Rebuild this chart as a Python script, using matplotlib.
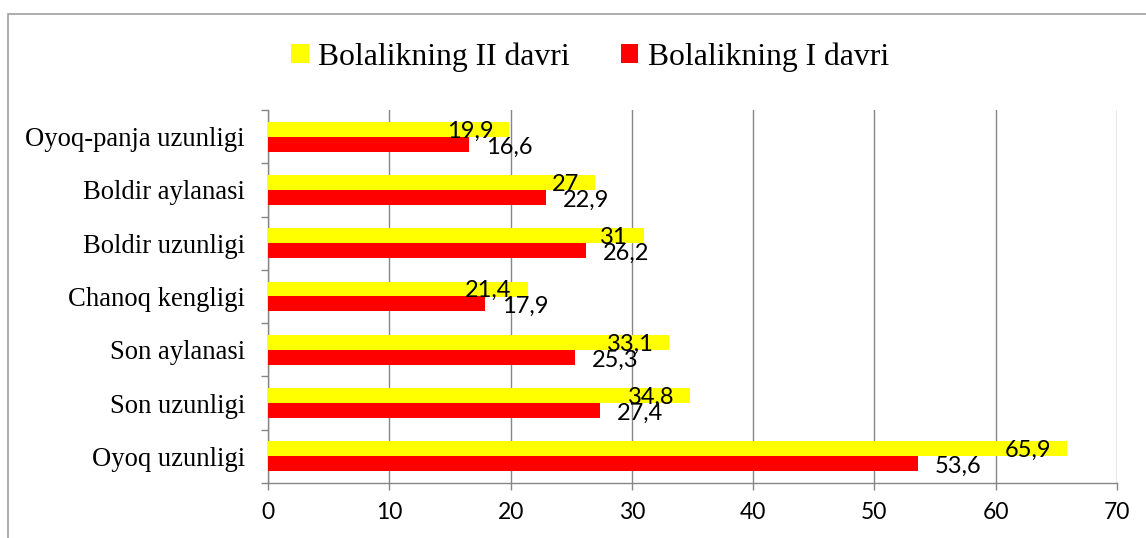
import matplotlib
matplotlib.use("Agg")
import matplotlib.pyplot as plt
from matplotlib.patches import Patch, Rectangle
from matplotlib.ticker import FixedLocator

categories = ["Oyoq uzunligi", "Son uzunligi", "Son aylanasi", "Chanoq kengligi",
              "Boldir uzunligi", "Boldir aylanasi", "Oyoq-panja uzunligi"]
davr2 = [65.9, 34.8, 33.1, 21.4, 31, 27, 19.9]
davr1 = [53.6, 27.4, 25.3, 17.9, 26.2, 22.9, 16.6]
series_names = ["Bolalikning II davri", "Bolalikning I davri"]
xticks = [0, 10, 20, 30, 40, 50, 60, 70]

fig = plt.figure(figsize=(11.46, 5.38), dpi=100)
ax = fig.add_axes([268/1146, 1-483/538, (1117-268)/1146, (483-110)/538])

h = 0.28
ys = list(range(len(categories)))
ax.barh([y + h/2 for y in ys], davr2, height=h, color="#FFFF00", zorder=3)
ax.barh([y - h/2 for y in ys], davr1, height=h, color="#FF0000", zorder=3)

def fmt(v):
    return f"{v:g}".replace(".", ",")

lab_font = dict(family="Lato", fontsize=17, color="black")
for y, v in zip(ys, davr2):
    ax.annotate(fmt(v), (v, y + h/2), xytext=(-11.5, -1.2), textcoords="offset points",
                ha="right", va="center", zorder=5, **lab_font)
for y, v in zip(ys, davr1):
    ax.annotate(fmt(v), (v, y - h/2), xytext=(12, -2), textcoords="offset points",
                ha="left", va="center", zorder=5, **lab_font)

ax.set_xlim(0, 70)
ax.set_ylim(-0.5, len(categories) - 0.5)
ax.set_xticks(xticks)
ax.set_xticklabels([str(t) for t in xticks], family="Lato", fontsize=16.5)
ax.set_yticks(ys)
ax.set_yticklabels(categories, family="Liberation Serif", fontsize=19.2)
ax.yaxis.set_minor_locator(FixedLocator([y - 0.5 for y in range(len(categories) + 1)]))
ax.tick_params(axis="y", which="major", length=0, pad=16.5)
ax.tick_params(axis="y", which="minor", length=5, color="#868686", width=1)
ax.tick_params(axis="x", length=5, color="#868686", width=1, pad=9)
ax.grid(axis="x", color="#868686", linewidth=1, zorder=0)
for s in ["top", "right"]:
    ax.spines[s].set_visible(False)
for s in ["left", "bottom"]:
    ax.spines[s].set_color("#868686")
    ax.spines[s].set_linewidth(1)

handles = [Patch(facecolor="#FFFF00"), Patch(facecolor="#FF0000")]
fig.legend(handles, series_names, loc="center", bbox_to_anchor=(590/1146, 1-57/538),
           ncol=2, frameon=False, prop=dict(family="Liberation Serif", size=22.8),
           handlelength=0.55, handleheight=0.55, handletextpad=0.3, columnspacing=1.6)

fig.add_artist(Rectangle((8/1146, -0.1), 1.2, 1 - 14/538 + 0.1, transform=fig.transFigure,
                         fill=False, edgecolor="#A0A0A0", linewidth=1.2, clip_on=False))

fig.savefig("out.png", dpi=100)
